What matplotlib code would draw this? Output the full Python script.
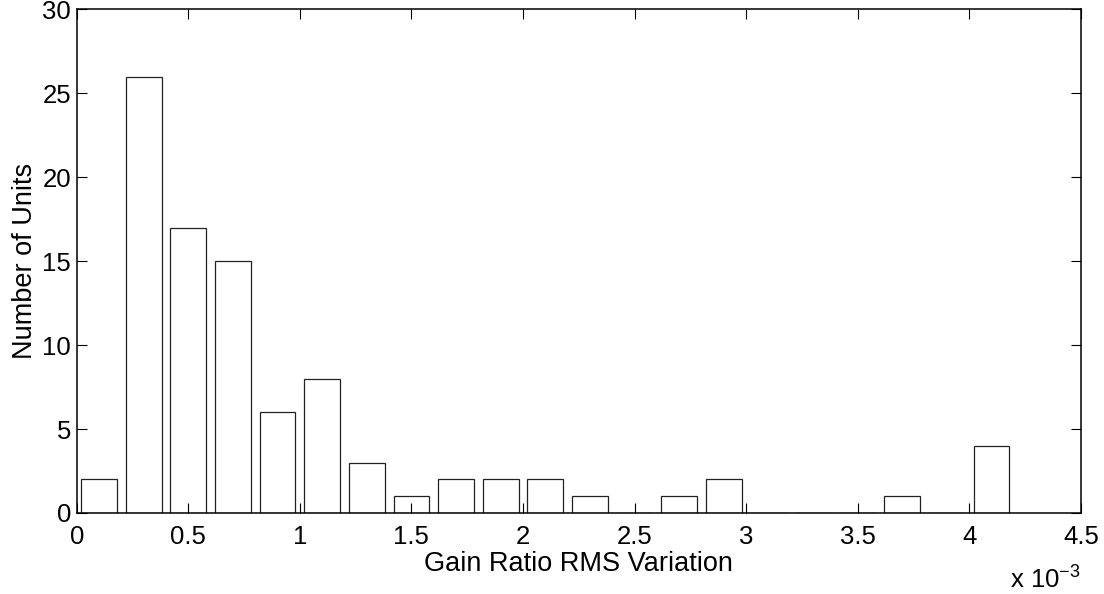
import matplotlib.pyplot as plt
from matplotlib.ticker import FuncFormatter

# histogram bin centres (gain ratio RMS variation) and counts
bin_centers = [0.0001, 0.0003, 0.0005, 0.0007, 0.0009, 0.0011, 0.0013, 0.0015,
               0.0017, 0.0019, 0.0021, 0.0023, 0.0025, 0.0027, 0.0029, 0.0031,
               0.0033, 0.0035, 0.0037, 0.0039, 0.0041]
counts = [2, 26, 17, 15, 6, 8, 3, 1, 2, 2, 2, 1, 0, 1, 2, 0, 0, 0, 1, 0, 4]

plt.rcParams['font.family'] = ['Liberation Sans', 'DejaVu Sans']
plt.rcParams['mathtext.fontset'] = 'custom'
plt.rcParams['mathtext.rm'] = 'Liberation Sans'
plt.rcParams['mathtext.it'] = 'Liberation Sans'

fig = plt.figure(figsize=(11.04, 5.94), dpi=100)
ax = fig.add_axes([0.0695, 0.1364, 0.9095, 0.8478])

ax.bar(bin_centers, counts, width=0.00016, color='white', edgecolor='#222222',
       linewidth=0.9)

ax.set_xlim(0, 0.0045)
ax.set_ylim(0, 30)
ax.set_xticks([i * 0.0005 for i in range(10)])
ax.set_yticks(range(0, 31, 5))
ax.xaxis.set_major_formatter(FuncFormatter(lambda v, p: '%g' % round(v * 1000, 4)))

ax.tick_params(direction='in', length=7, width=0.8, labelsize=18.5,
               top=True, right=True, pad=4)
ax.tick_params(axis='x', pad=9)
for s in ax.spines.values():
    s.set_linewidth(1.1)

ax.set_xlabel('Gain Ratio RMS Variation', fontsize=19.5, labelpad=1)
ax.set_ylabel('Number of Units', fontsize=19.5, labelpad=3)

fig.text(0.9150, 0.001, r'x 10$^{-3}$', fontsize=18.5, ha='left', va='bottom')

fig.savefig('out.png', dpi=100)
